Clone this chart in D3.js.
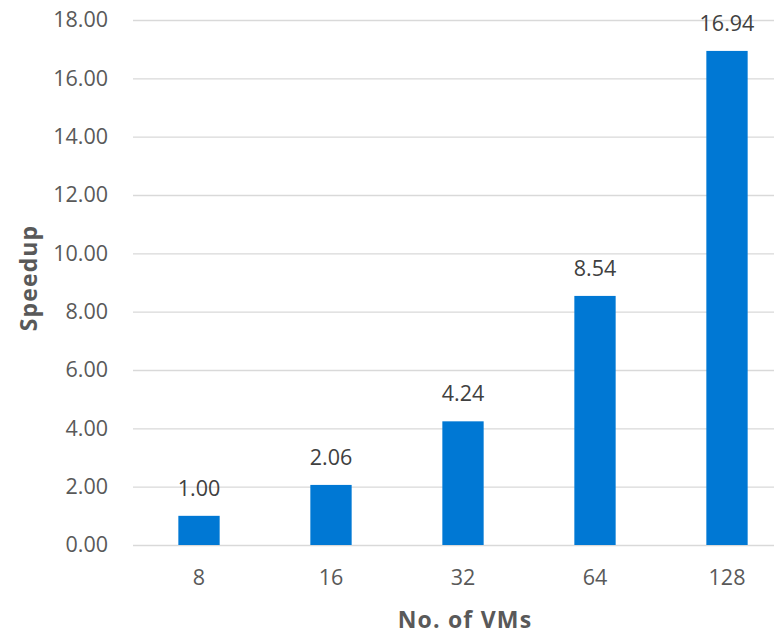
<!DOCTYPE html>
<html>
<head>
<meta charset="utf-8">
<script src="https://cdn.jsdelivr.net/npm/d3@7"></script>
<style>
  html, body { margin: 0; padding: 0; background: #fff; overflow: hidden; }
  svg { display: block; }
  text { font-family: "Open Sans", "Noto Sans", sans-serif; }
</style>
</head>
<body>
<svg id="chart" width="774" height="636"></svg>
<script>
// Speedup measured for increasing numbers of VMs
const vmCounts = ["8", "16", "32", "64", "128"];
const speedup = [1.00, 2.06, 4.24, 8.54, 16.94];
const yTicks = [0, 2, 4, 6, 8, 10, 12, 14, 16, 18];

const svg = d3.select("#chart");
const plot = { left: 133, right: 793, top: 20, bottom: 545 };

const x = d3.scaleBand()
  .domain(vmCounts)
  .range([plot.left, plot.right])
  .paddingInner(0.687)
  .paddingOuter(0.3435);

const y = d3.scaleLinear()
  .domain([0, 18])
  .range([plot.bottom, plot.top]);

// Horizontal gridlines with tick labels
const yAxis = d3.axisLeft(y)
  .tickValues(yTicks)
  .tickFormat(d3.format(".2f"))
  .tickSize(-(plot.right - plot.left))
  .tickPadding(25);

const gy = svg.append("g")
  .attr("transform", `translate(${plot.left},0)`)
  .call(yAxis);
gy.select(".domain").remove();
gy.selectAll(".tick line").attr("stroke", "#d9d9d9").attr("stroke-width", 1.3);
gy.selectAll(".tick text")
  .attr("fill", "#595959")
  .style("font-size", "21.5px");

// Category labels under the baseline
const xAxis = d3.axisBottom(x).tickSize(0).tickPadding(25);
const gx = svg.append("g")
  .attr("transform", `translate(0,${plot.bottom})`)
  .call(xAxis);
gx.select(".domain").remove();
gx.selectAll(".tick text")
  .attr("fill", "#595959")
  .style("font-size", "21.5px");

// Bars
svg.append("g")
  .selectAll("rect")
  .data(speedup)
  .join("rect")
  .attr("x", (d, i) => x(vmCounts[i]))
  .attr("width", x.bandwidth())
  .attr("y", d => y(d))
  .attr("height", d => y(0) - y(d))
  .attr("fill", "#0078d4");

// Value labels above bars
svg.append("g")
  .selectAll("text")
  .data(speedup)
  .join("text")
  .attr("x", (d, i) => x(vmCounts[i]) + x.bandwidth() / 2)
  .attr("y", d => y(d) - 20)
  .attr("text-anchor", "middle")
  .attr("fill", "#404040")
  .style("font-size", "21.5px")
  .text(d => d.toFixed(2));

// Axis titles
svg.append("text")
  .attr("x", 465)
  .attr("y", 628)
  .attr("text-anchor", "middle")
  .attr("fill", "#595959")
  .style("font-size", "23px")
  .style("font-weight", "bold")
  .style("letter-spacing", "1.2px")
  .text("No. of VMs");

svg.append("text")
  .attr("transform", "translate(37,278) rotate(-90)")
  .attr("text-anchor", "middle")
  .attr("fill", "#595959")
  .style("font-size", "23px")
  .style("font-weight", "bold")
  .style("letter-spacing", "1.1px")
  .text("Speedup");
</script>
</body>
</html>
